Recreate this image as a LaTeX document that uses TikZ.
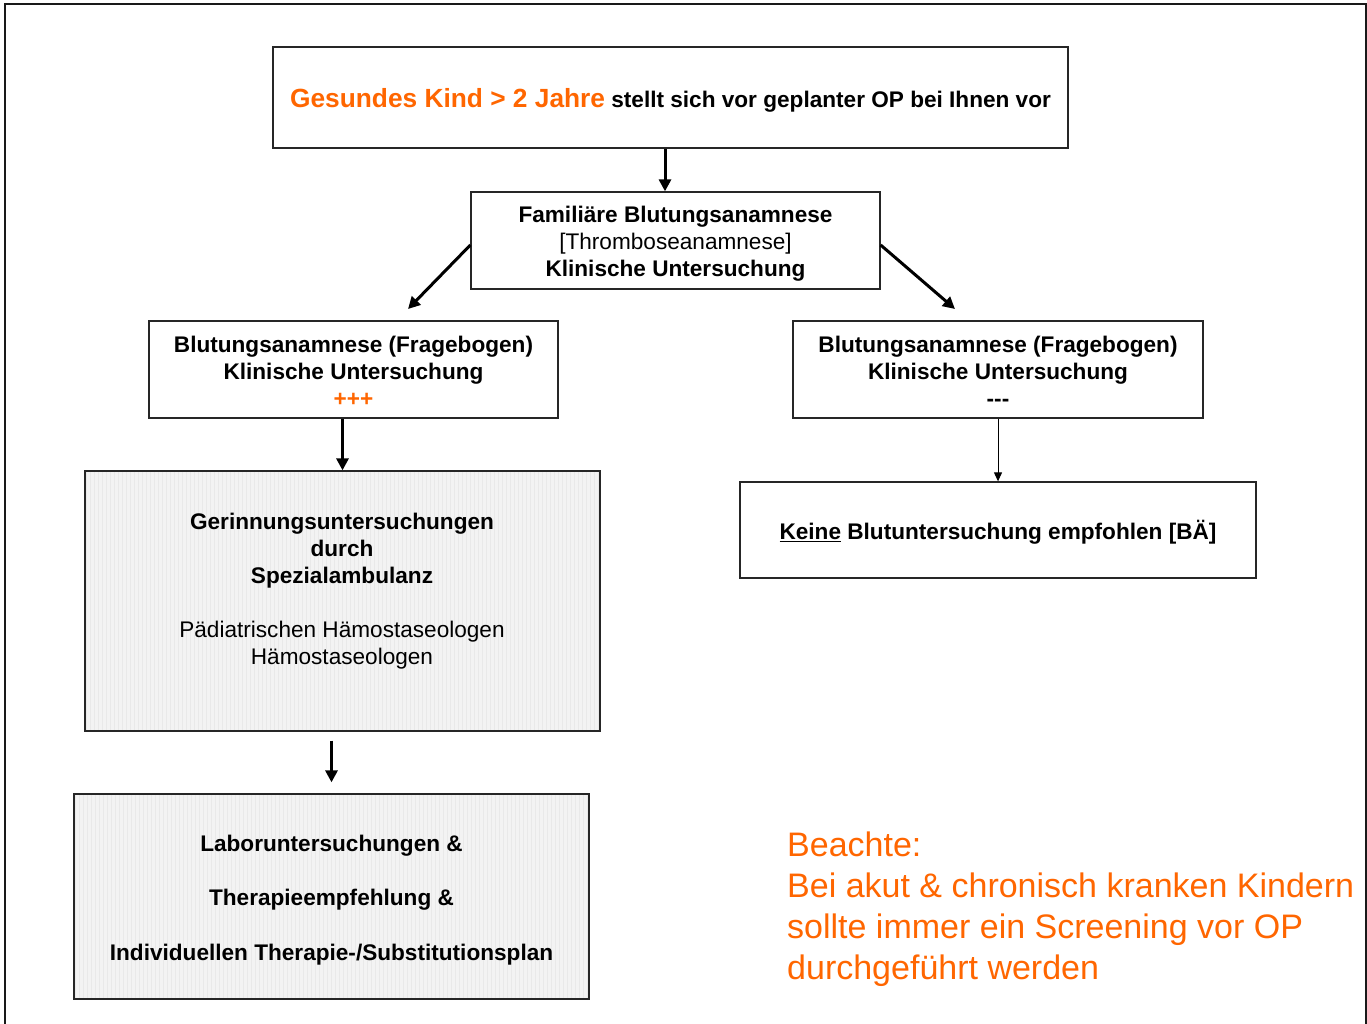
\documentclass[tikz,border=0pt]{standalone}
\usepackage{fontspec}
\setmainfont{Liberation Sans}
\usetikzlibrary{arrows.meta,calc}
\definecolor{orng}{RGB}{255,102,0}
\definecolor{gfill}{RGB}{243,243,243}
\definecolor{ggrid}{RGB}{233,233,233}
\begin{document}
\begin{tikzpicture}[x=1pt,y=-1pt,
  box/.style={draw=black!85, line width=1.3pt, inner sep=0pt},
  greybox/.style={box, fill=gfill,
    path picture={\draw[ggrid, line width=0.5pt, step=4]
      (path picture bounding box.south west) grid (path picture bounding box.north east);}},
  bigarrow/.style={line width=3pt, -{Triangle[length=12pt,width=12pt]}},
  thinarrow/.style={line width=1pt, -{Triangle[length=9pt,width=8pt]}},
  txt/.style={inner sep=0pt, align=center, font=\fontsize{22.6}{27}\selectfont}
]
\useasboundingbox (0,0) rectangle (1367,1023);
\fill[white] (0,0) rectangle (1367,1023);
\draw[line width=2.5pt, black!90] (5,4) rectangle (1366,1040);

\node[box, minimum width=795, minimum height=101] (top) at (670.5,97.5) {};
\node[txt] (topt) at ($(top.center)+(0,3)$)
  {{\color{orng}\fontsize{26.3}{30}\selectfont\bfseries Gesundes Kind > 2 Jahre} \bfseries stellt sich vor geplanter OP bei Ihnen vor};

\node[box, minimum width=409, minimum height=97] (b2) at (675.5,240.5) {};
\node[txt] (b2t) at ($(b2.center)+(0,3)$)
  {\bfseries Familiäre Blutungsanamnese\\{[Thromboseanamnese]}\\\bfseries Klinische Untersuchung};

\node[box, minimum width=409, minimum height=97] (bl) at (353.5,369.5) {};
\node[txt] (blt) at ($(bl.center)+(0,2)$)
  {\bfseries Blutungsanamnese (Fragebogen)\\\bfseries Klinische Untersuchung\\\bfseries\color{orng}+++};

\node[box, minimum width=410, minimum height=97] (br) at (998,369.5) {};
\node[txt] (brt) at ($(br.center)+(0,2)$)
  {\bfseries Blutungsanamnese (Fragebogen)\\\bfseries Klinische Untersuchung\\\bfseries -\kern0pt-\kern0pt-};

\node[greybox, minimum width=515, minimum height=260] (g1) at (342.5,601) {};
\node[txt] (g1t) at (342,591)
  {\bfseries Gerinnungsuntersuchungen\\\bfseries durch\\\bfseries Spezialambulanz\\[27pt]Pädiatrischen Hämostaseologen\\Hämostaseologen};

\node[greybox, minimum width=515, minimum height=205] (g2) at (331.5,896.5) {};
\node[txt, font=\fontsize{22.6}{54.5}\selectfont] (g2t) at (331.5,900)
  {\bfseries Laboruntersuchungen \&\\\bfseries Therapieempfehlung \&\\\bfseries Individuellen Therapie-/Substitutionsplan};

\node[box, minimum width=516, minimum height=96] (kb) at (998,530) {};
\node[txt] (kbt) at ($(kb.center)+(0,2)$)
  {\bfseries\underline{Keine} Blutuntersuchung empfohlen [BÄ]};

\node[inner sep=0pt, anchor=north west, align=left, text=orng,
  font=\fontsize{34}{41}\selectfont] (note) at (787,832)
  {Beachte:\\Bei akut \& chronisch kranken Kindern\\sollte immer ein Screening vor OP\\durchgeführt werden};

% connectors
\coordinate (ax) at (665,0);
\draw[bigarrow] (top.south -| ax) -- (b2.north -| ax);
\coordinate (dl) at (408,309);
\coordinate (dr) at (955,309);
\draw[bigarrow] ($(b2.west)+(0,4.5)$) -- (dl);
\draw[bigarrow] ($(b2.east)+(0,4.5)$) -- (dr);
\draw[bigarrow] (bl.south -| g1.north) -- (g1.north);
\draw[thinarrow] (br.south) -- (kb.north);
\coordinate (m1) at ($(g1.south -| g2.north)+(0,9)$);
\coordinate (m2) at ($(g2.north)+(0,-11)$);
\draw[bigarrow] (m1) -- (m2);
\end{tikzpicture}
\end{document}
